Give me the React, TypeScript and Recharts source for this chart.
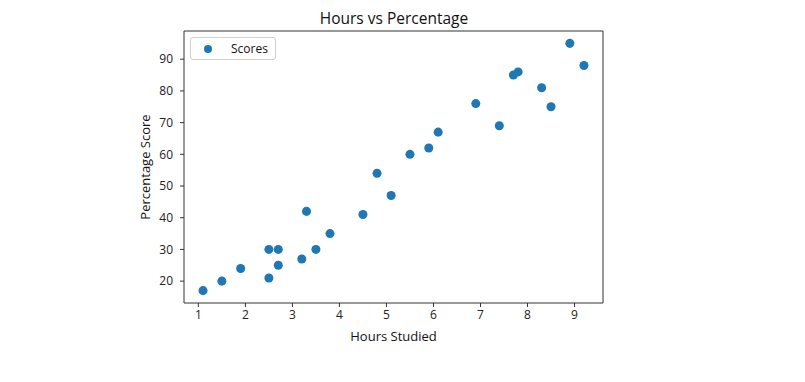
import { ScatterChart, Scatter, XAxis, YAxis, ReferenceLine } from 'recharts'

const hours = [2.5, 5.1, 3.2, 8.5, 3.5, 1.5, 9.2, 5.5, 8.3, 2.7, 7.7, 5.9, 4.5, 3.3, 1.1, 8.9, 2.5, 1.9, 6.1, 7.4, 2.7, 4.8, 3.8, 6.9, 7.8]
const scores = [21, 47, 27, 75, 30, 20, 88, 60, 81, 25, 85, 62, 41, 42, 17, 95, 30, 24, 67, 69, 30, 54, 35, 76, 86]
const xTicks = [1, 2, 3, 4, 5, 6, 7, 8, 9]
const yTicks = [20, 30, 40, 50, 60, 70, 80, 90]
const xDomain = [0.695, 9.605]
const yDomain = [13.1, 98.9]

const data = hours.map((h, i) => ({ hours: h, score: scores[i] }))

const FONT = '"Open Sans", sans-serif'
const BLUE = '#1f77b4'
const SPINE = '#333'
const tickStyle = { fontSize: 12, fill: '#222', fontFamily: FONT }

export default function App() {
  return (
    <div style={{ position: 'absolute', left: 0, top: 0, width: 805, height: 382, background: '#fff' }}>
      <div
        style={{
          position: 'absolute',
          left: 184,
          width: 420,
          top: 7,
          textAlign: 'center',
          fontFamily: FONT,
          fontSize: 15.5,
          color: '#111',
          lineHeight: '22px',
        }}
      >
        Hours vs Percentage
      </div>
      <div
        style={{
          position: 'absolute',
          left: 190,
          top: 37,
          width: 84,
          height: 21,
          boxSizing: 'content-box',
          display: 'flex',
          alignItems: 'center',
          border: '1px solid #d0d0d0',
          borderRadius: 3,
          fontFamily: FONT,
          fontSize: 12,
          color: '#111',
          background: '#fff',
          zIndex: 2,
        }}
      >
        <span style={{ marginLeft: 13, width: 8, height: 8, borderRadius: 4, background: BLUE, display: 'inline-block' }} />
        <span style={{ marginLeft: 19 }}>Scores</span>
      </div>
      <ScatterChart width={805} height={382} margin={{ top: 31, right: 202, bottom: 49, left: 124 }}>
        <XAxis
          dataKey="hours"
          type="number"
          domain={xDomain}
          ticks={xTicks}
          allowDataOverflow
          height={30}
          tickSize={4}
          tickMargin={3}
          stroke={SPINE}
          tick={tickStyle}
          label={{
            content: ({ viewBox }: any) => (
              <text
                x={viewBox.x + viewBox.width / 2}
                y={viewBox.y + 33}
                textAnchor="middle"
                dominantBaseline="central"
                style={{ fontSize: 13, fontFamily: FONT, fill: '#111' }}
              >
                Hours Studied
              </text>
            ),
          }}
        />
        <YAxis
          dataKey="score"
          type="number"
          domain={yDomain}
          ticks={yTicks}
          allowDataOverflow
          width={60}
          tickSize={4}
          tickMargin={7}
          stroke={SPINE}
          tick={tickStyle}
          label={{
            content: ({ viewBox }: any) => {
              const x = viewBox.x + 21
              const y = viewBox.y + viewBox.height / 2
              return (
                <text
                  x={x}
                  y={y}
                  transform={`rotate(-90 ${x} ${y})`}
                  textAnchor="middle"
                  dominantBaseline="central"
                  style={{ fontSize: 13, fontFamily: FONT, fill: '#111' }}
                >
                  Percentage Score
                </text>
              )
            },
          }}
        />
        <ReferenceLine y={yDomain[1]} stroke={SPINE} ifOverflow="extendDomain" />
        <ReferenceLine x={xDomain[1]} stroke={SPINE} ifOverflow="extendDomain" />
        <Scatter name="Scores" data={data} fill={BLUE} shape="circle" isAnimationActive={false} />
      </ScatterChart>
    </div>
  )
}
